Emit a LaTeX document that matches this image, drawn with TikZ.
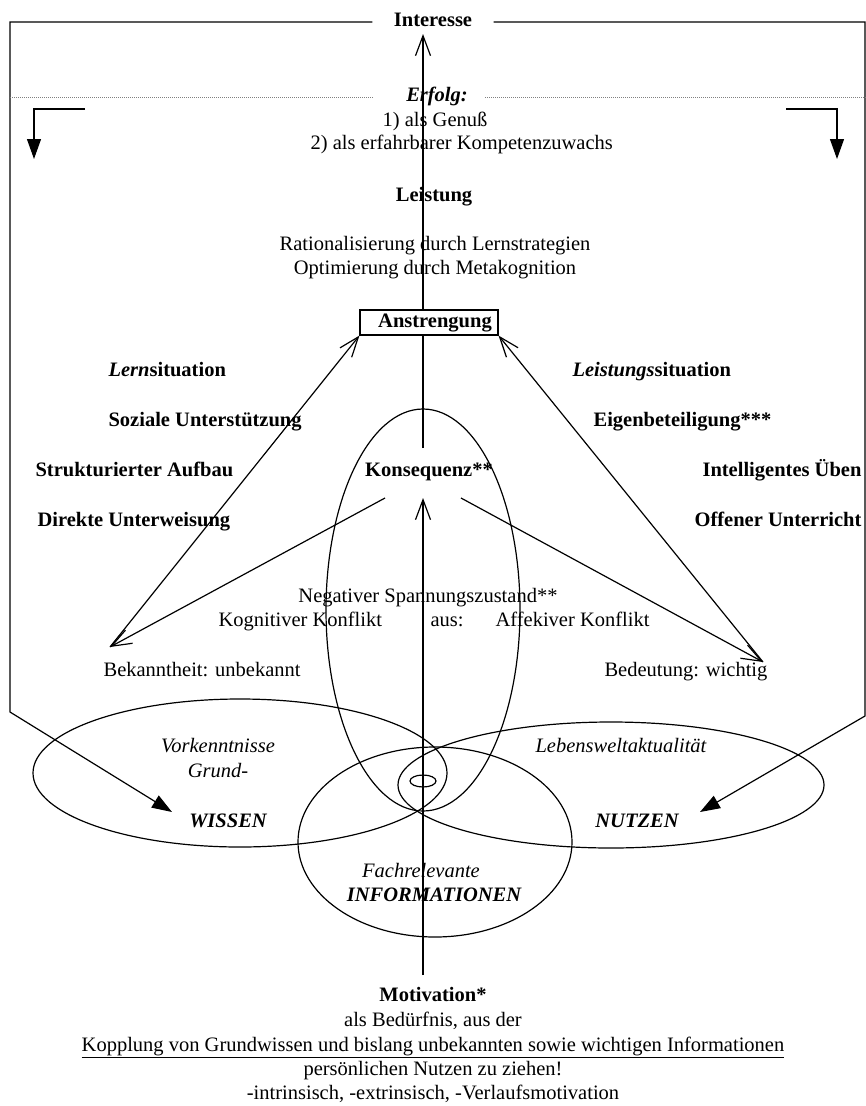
\documentclass[tikz,border=0pt]{standalone}
\usepackage{fontspec}
\setmainfont{Liberation Serif}
\usetikzlibrary{arrows.meta,shapes.geometric}
\begin{document}
\begin{tikzpicture}[x=1pt,y=-1pt,
  line width=1.2pt,
  txt/.style={inner sep=0pt, font=\fontsize{20.5}{23}\selectfont, text height=14pt, text depth=4.5pt},
  bld/.style={txt, font=\fontsize{20.5}{23}\selectfont\bfseries},
  itl/.style={txt, font=\fontsize{20.5}{23}\selectfont\itshape},
  bit/.style={txt, font=\fontsize{20.5}{23}\selectfont\bfseries\itshape},
  barb/.style={-{Straight Barb[length=20pt,width=15pt]}},
  tri/.style={-{Triangle[length=20pt,width=14pt]}},
  ell/.style={ellipse, draw, inner sep=0pt},
  dots/.style={gray, line width=0.8pt, dash pattern=on 1pt off 1pt}
]
\useasboundingbox (0,0) rectangle (866,1106);

% ---------- coordinates ----------
\coordinate (tl) at (10,22);
\coordinate (tr) at (865,22);
\coordinate (lb) at (10,712);
\coordinate (rb) at (865,716);
\coordinate (wtip) at (172,812);
\coordinate (ntip) at (700,812);
\coordinate (dl) at (10,97);
\coordinate (dlend) at (373,97);
\coordinate (dr) at (485,97);
\coordinate (drend) at (866,97);
\coordinate (cl1) at (85,109);
\coordinate (cl2) at (34,109);
\coordinate (cl3) at (34,159);
\coordinate (cr1) at (786,109);
\coordinate (cr2) at (837,109);
\coordinate (cr3) at (837,159);
\coordinate (axtop) at (423,34);
\coordinate (kqtop) at (423,448);
\coordinate (kqarr) at (423,498);
\coordinate (mbot) at (423,975);
\coordinate (kql) at (385,498);
\coordinate (kqr) at (461,498);
\coordinate (btip) at (110,647);
\coordinate (dtip) at (763,662);

% ---------- ellipses ----------
\node[ell, minimum width=414pt, minimum height=148pt] (ewissen) at (240,773) {};
\node[ell, minimum width=426pt, minimum height=126pt] (enutzen) at (611,785) {};
\node[ell, minimum width=274pt, minimum height=190pt] (einfo) at (435,842) {};
\node[ell, minimum width=194pt, minimum height=402pt] (ekonsq) at (423,610) {};
\node[ell, minimum width=26pt, minimum height=12pt] (ekern) at (423,781) {};

% ---------- top texts ----------
\node[bld, inner xsep=21pt] (interesse) at (433,22) {Interesse};
\node[bit] (erfolg) at (437,97) {Erfolg:};
\node[txt, anchor=west] (genuss) at (382,122) {1) als Genuß};
\node[txt, anchor=west] (kompetenz) at (310,145) {2) als erfahrbarer Kompetenzuwachs};
\node[bld] (leistung) at (434,197) {Leistung};
\node[txt] (rational) at (435,246) {Rationalisierung durch Lernstrategien};
\node[txt] (optim) at (435,270) {Optimierung durch Metakognition};
\node[draw, inner sep=0pt, minimum width=138pt, minimum height=25pt,
      font=\fontsize{20.5}{23}\selectfont\bfseries] (anst) at (429,322.5) {\hspace*{12pt}Anstrengung};

% ---------- side texts ----------
\node[bld, anchor=west] (lern) at (108,372) {\textit{Lern}situation};
\node[bld, anchor=west] (sozial) at (108,422) {Soziale Unterstützung};
\node[bld, anchor=west] (struktur) at (35,472) {Strukturierter Aufbau};
\node[bld, anchor=west] (direkt) at (37,522) {Direkte Unterweisung};
\node[bld, anchor=west] (leistsit) at (572,372) {\textit{Leistungs}situation};
\node[bld, anchor=west] (eigen) at (593,422) {Eigenbeteiligung***};
\node[bld, anchor=east] (intell) at (862,472) {Intelligentes Üben};
\node[bld, anchor=east] (offen) at (862,522) {Offener Unterricht};

% ---------- centre texts ----------
\node[bld] (konsq) at (429,472) {Konsequenz**};
\node[txt] (negativ) at (428,598) {Negativer Spannungszustand**};
\node[txt, anchor=west] (kognitiv) at (218,622) {Kognitiver Konflikt};
\node[txt, anchor=west] (aus) at (430,622) {aus:};
\node[txt, anchor=west] (affektiv) at (495,622) {Affekiver Konflikt};
\node[txt, anchor=west] (bekannt) at (103,672) {Bekanntheit: unbekannt};
\node[txt, anchor=east] (bedeut) at (768,672) {Bedeutung: wichtig};

% ---------- ellipse texts ----------
\node[itl] (vork) at (218,748) {Vorkenntnisse};
\node[itl] (grund) at (218,773) {Grund-};
\node[bit] (wissen) at (228,823) {WISSEN};
\node[itl] (lebens) at (621,748) {Lebensweltaktualität};
\node[bit] (nutzen) at (637,823) {NUTZEN};
\node[itl] (fach) at (421,873) {Fachrelevante};
\node[bit] (info) at (434,897) {INFORMATIONEN};

% ---------- bottom texts ----------
\node[bld] (motiv) at (433,997) {Motivation*};
\node[txt] (beduerf) at (433,1022) {als Bedürfnis, aus der};
\node[txt] (kopplung) at (433,1047) {\underline{Kopplung von Grundwissen und bislang unbekannten sowie wichtigen Informationen}};
\node[txt] (persoen) at (433,1071) {persönlichen Nutzen zu ziehen!};
\node[txt] (intrins) at (433,1095) {-intrinsisch, -extrinsisch, -Verlaufsmotivation};

% ---------- frame and dotted line ----------
\draw[tri] (interesse.west) -- (tl) -- (lb) -- (wtip);
\draw[tri] (interesse.east) -- (tr) -- (rb) -- (ntip);
\draw[dots] (dl) -- (dlend);
\draw[dots] (dr) -- (drend);
\draw[tri] (cl1) -- (cl2) -- (cl3);
\draw[tri] (cr1) -- (cr2) -- (cr3);

% ---------- connectors ----------
\draw[barb] (anst.north -| axtop) -- (axtop);
\draw (kqtop) -- (anst.south -| kqtop);
\draw[barb] (mbot) -- (kqarr);
\draw[barb] (kql) -- (btip);
\draw[barb] (kqr) -- (dtip);
\draw[barb] (btip) -- (anst.south west);
\draw[barb] (dtip) -- (anst.south east);
\end{tikzpicture}
\end{document}
